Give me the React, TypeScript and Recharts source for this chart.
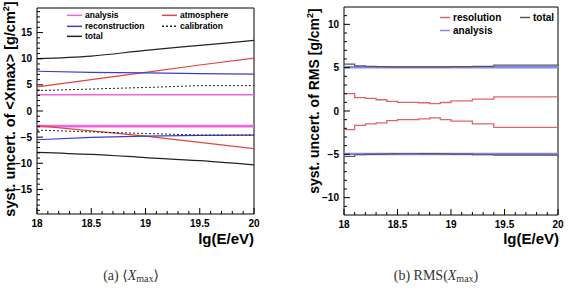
import React from 'react';
import { LineChart, Line, XAxis, YAxis, ReferenceArea, Legend } from 'recharts';

// ---------- data: left panel <Xmax> ----------
const lgE = [18, 18.5, 19, 19.5, 20];
const analysisUp = [3.1, 3.1, 3.1, 3.1, 3.1];
const analysisLo = [-2.9, -2.9, -2.9, -2.9, -2.9];
const atmosphereUp = [4.6, 6.0, 7.4, 8.8, 10.1];
const atmosphereLo = [-2.8, -3.8, -4.8, -6.0, -7.2];
const reconstructionUp = [7.6, 7.4, 7.3, 7.15, 7.05];
const reconstructionLo = [-5.5, -5.05, -4.8, -4.65, -4.6];
const calibrationUp = [3.9, 4.2, 4.5, 4.85, 4.85];
const calibrationLo = [-3.65, -4.0, -4.3, -4.6, -4.6];
const totalUp = [10.0, 10.5, 11.6, 12.55, 13.5];
const totalLo = [-7.9, -8.3, -8.9, -9.5, -10.3];

// ---------- data: right panel RMS (histogram bins) ----------
const binEdges = [18, 18.1, 18.2, 18.3, 18.4, 18.5, 18.7, 18.8, 18.9, 19.0, 19.2, 19.4, 20];
const resolutionUp = [2.0, 1.55, 1.45, 1.3, 1.1, 1.0, 0.95, 0.85, 0.98, 1.17, 1.36, 1.62];
const resolutionLo = [-2.15, -1.67, -1.48, -1.36, -1.1, -0.99, -0.91, -0.8, -0.99, -1.17, -1.48, -1.9];
const rmsAnalysisUp = [5.05, 5.05, 5.05, 5.05, 5.05, 5.05, 5.05, 5.05, 5.05, 5.05, 5.05, 5.05];
const rmsAnalysisLo = [-4.97, -4.97, -4.97, -4.97, -4.97, -4.97, -4.97, -4.97, -4.97, -4.97, -4.97, -4.97];
const rmsTotalUp = [5.4, 5.2, 5.15, 5.12, 5.1, 5.1, 5.08, 5.08, 5.1, 5.12, 5.15, 5.3];
const rmsTotalLo = [-5.25, -5.05, -5.0, -4.98, -4.95, -4.93, -4.92, -4.92, -4.95, -4.98, -5.05, -5.1];

// ---------- ticks ----------
const xMajorTicks = [18, 18.5, 19, 19.5, 20];
const xTicks = [18, 18.1, 18.2, 18.3, 18.4, 18.5, 18.6, 18.7, 18.8, 18.9, 19, 19.1, 19.2, 19.3, 19.4, 19.5, 19.6, 19.7, 19.8, 19.9, 20];
const yTicksLeft = Array.from({ length: 39 }, (_, i) => i - 19);
const yTicksRight = Array.from({ length: 23 }, (_, i) => i - 11);

const FONT = '"Liberation Sans", Arial, Helvetica, sans-serif';
const SERIF = '"Liberation Serif", "DejaVu Serif", serif';

type Pt = { x: number; y: number };
const toPts = (xs: number[], ys: number[]): Pt[] => xs.map((x, i) => ({ x, y: ys[i] }));
const toSteps = (edges: number[], vals: number[]): Pt[] => [
  ...vals.map((v, i) => ({ x: edges[i], y: v })),
  { x: edges[edges.length - 1], y: vals[vals.length - 1] },
];

const fmt = (v: number) => (v < 0 ? '\u2212' + String(Math.abs(v)) : String(v));

const XTick = (p: any) => {
  const v = p.payload.value as number;
  const major = xMajorTicks.some((m) => Math.abs(m - v) < 1e-6);
  return (
    <g>
      <line x1={p.x} x2={p.x} y1={p.y} y2={p.y - (major ? 6 : 3)} stroke="#000" strokeWidth={1} />
      {major && (
        <text x={p.x} y={p.y + 13} textAnchor="middle" fontSize={10} fontWeight="bold" fontFamily={FONT} fill="#000">
          {fmt(v)}
        </text>
      )}
    </g>
  );
};

const YTick = (p: any) => {
  const v = p.payload.value as number;
  const major = Math.abs(v % 5) < 1e-6;
  return (
    <g>
      <line x1={p.x} x2={p.x + (major ? 6 : 3)} y1={p.y} y2={p.y} stroke="#000" strokeWidth={1} />
      {major && (
        <text x={p.x - 5} y={p.y + 3.5} textAnchor="end" fontSize={10} fontWeight="bold" fontFamily={FONT} fill="#000">
          {fmt(v)}
        </text>
      )}
    </g>
  );
};

const styles: Record<string, { color: string; width: number; dash?: string }> = {
  analysis: { color: '#ee66dd', width: 1.5 },
  atmosphere: { color: '#e04444', width: 1.2 },
  reconstruction: { color: '#3c3ccc', width: 1.2 },
  calibration: { color: '#222', width: 1, dash: '2 2' },
  total: { color: '#222', width: 1.2 },
  resolution: { color: '#e06464', width: 1.3 },
  rmsAnalysis: { color: '#8585ee', width: 1.5 },
  rmsTotal: { color: '#555', width: 1.3 },
};

const makeLegend =
  (order: string[], cols: number, colW: number, rowH: number, lineW: number, fontSize: number) =>
  (props: any) => {
    const payload = (props.payload || []) as any[];
    const byName = new Map(payload.map((it: any) => [it.value, it]));
    return (
      <div style={{ position: 'relative', width: cols * colW, height: Math.ceil(order.length / cols) * rowH }}>
        {order.map((name, i) => {
          const it: any = byName.get(name);
          if (!it) return null;
          const col = i % cols;
          const row = Math.floor(i / cols);
          const dash = it.payload?.strokeDasharray;
          return (
            <div
              key={name}
              style={{
                position: 'absolute',
                left: col * colW,
                top: row * rowH,
                height: rowH,
                display: 'flex',
                alignItems: 'center',
                whiteSpace: 'nowrap',
              }}
            >
              <svg width={lineW} height={rowH} style={{ display: 'block' }}>
                <line x1={0} x2={lineW} y1={rowH / 2} y2={rowH / 2} stroke={it.color} strokeWidth={1.5} strokeDasharray={dash} />
              </svg>
              <span style={{ marginLeft: 3, fontSize, fontWeight: 'bold', fontFamily: FONT, color: '#000', lineHeight: rowH + 'px' }}>
                {name}
              </span>
            </div>
          );
        })}
      </div>
    );
  };

const leftLegend = makeLegend(['analysis', 'atmosphere', 'reconstruction', 'calibration', 'total'], 2, 95, 10.7, 15, 8.5);
const rightLegend = makeLegend(['resolution', 'total', 'analysis'], 2, 80, 13, 10, 10);

const LeftChart = () => (
  <LineChart width={284} height={290} margin={{ top: 8, right: 30, bottom: 46, left: 0 }}>
    <XAxis
      type="number"
      dataKey="x"
      domain={[18, 20]}
      ticks={xTicks}
      interval={0}
      tick={XTick}
      tickSize={0}
      tickMargin={0}
      axisLine={false}
      tickLine={false}
      height={30}
      allowDataOverflow
    />
    <YAxis
      type="number"
      dataKey="y"
      domain={[-19.7, 19.7]}
      ticks={yTicksLeft}
      interval={0}
      tick={YTick}
      tickSize={0}
      tickMargin={0}
      axisLine={false}
      tickLine={false}
      width={37}
      allowDataOverflow
    />
    <ReferenceArea x1={18} x2={20} y1={-19.7} y2={19.7} fill="none" stroke="#000" strokeWidth={1} strokeOpacity={1} fillOpacity={0} />
    <Legend
      layout="horizontal"
      verticalAlign="middle"
      align="center"
      content={leftLegend}
      wrapperStyle={{ left: 67, top: 10, width: 190, height: 33 }}
    />
    <Line data={toPts(lgE, analysisUp)} dataKey="y" name="analysis" stroke={styles.analysis.color} strokeWidth={1.5} dot={false} isAnimationActive={false} />
    <Line data={toPts(lgE, analysisLo)} dataKey="y" name="analysisLo" legendType="none" stroke={styles.analysis.color} strokeWidth={2.8} dot={false} isAnimationActive={false} />
    <Line data={toPts(lgE, atmosphereUp)} dataKey="y" name="atmosphere" stroke={styles.atmosphere.color} strokeWidth={1.2} dot={false} isAnimationActive={false} />
    <Line data={toPts(lgE, atmosphereLo)} dataKey="y" name="atmosphereLo" legendType="none" stroke={styles.atmosphere.color} strokeWidth={1.2} dot={false} isAnimationActive={false} />
    <Line data={toPts(lgE, reconstructionUp)} dataKey="y" name="reconstruction" stroke={styles.reconstruction.color} strokeWidth={1.2} dot={false} isAnimationActive={false} />
    <Line data={toPts(lgE, reconstructionLo)} dataKey="y" name="reconstructionLo" legendType="none" stroke={styles.reconstruction.color} strokeWidth={1.2} dot={false} isAnimationActive={false} />
    <Line data={toPts(lgE, calibrationUp)} dataKey="y" name="calibration" stroke={styles.calibration.color} strokeWidth={1} strokeDasharray="2 2" dot={false} isAnimationActive={false} />
    <Line data={toPts(lgE, calibrationLo)} dataKey="y" name="calibrationLo" legendType="none" stroke={styles.calibration.color} strokeWidth={1} strokeDasharray="2 2" dot={false} isAnimationActive={false} />
    <Line data={toPts(lgE, totalUp)} dataKey="y" name="total" type="monotone" stroke={styles.total.color} strokeWidth={1.2} dot={false} isAnimationActive={false} />
    <Line data={toPts(lgE, totalLo)} dataKey="y" name="totalLo" type="monotone" legendType="none" stroke={styles.total.color} strokeWidth={1.2} dot={false} isAnimationActive={false} />
    <text transform="rotate(-90)" x={-109} y={14.5} textAnchor="middle" fontSize={14.5} fontWeight="bold" fontFamily={FONT} fill="#000">
      syst. uncert. of &lt;Xmax&gt; [g/cm<tspan dy={-6} fontSize={9}>2</tspan>
      <tspan dy={6}>]</tspan>
    </text>
    <text x={254} y={244} textAnchor="end" fontSize={15} fontWeight="bold" fontFamily={FONT} fill="#000">
      lg(E/eV)
    </text>
    <text x={131} y={280} textAnchor="middle" fontSize={14} fontFamily={SERIF} fill="#333">
      (a) ⟨<tspan fontStyle="italic">X</tspan>
      <tspan fontSize={10} dy={2}>max</tspan>
      <tspan dy={-2}>⟩</tspan>
    </text>
  </LineChart>
);

const RightChart = () => (
  <LineChart width={284} height={290} margin={{ top: 7, right: 10, bottom: 45, left: 0 }}>
    <XAxis
      type="number"
      dataKey="x"
      domain={[18, 20]}
      ticks={xTicks}
      interval={0}
      tick={XTick}
      tickSize={0}
      tickMargin={0}
      axisLine={false}
      tickLine={false}
      height={30}
      allowDataOverflow
    />
    <YAxis
      type="number"
      dataKey="y"
      domain={[-12, 12]}
      ticks={yTicksRight}
      interval={0}
      tick={YTick}
      tickSize={0}
      tickMargin={0}
      axisLine={false}
      tickLine={false}
      width={60}
      allowDataOverflow
    />
    <ReferenceArea x1={18} x2={20} y1={-12} y2={12} fill="none" stroke="#000" strokeWidth={1} strokeOpacity={1} fillOpacity={0} />
    <Legend
      layout="horizontal"
      verticalAlign="middle"
      align="center"
      content={rightLegend}
      wrapperStyle={{ left: 156, top: 11, width: 120, height: 26 }}
    />
    <Line data={toSteps(binEdges, resolutionUp)} dataKey="y" name="resolution" type="stepAfter" stroke={styles.resolution.color} strokeWidth={1.3} dot={false} isAnimationActive={false} />
    <Line data={toSteps(binEdges, resolutionLo)} dataKey="y" name="resolutionLo" legendType="none" type="stepAfter" stroke={styles.resolution.color} strokeWidth={1.3} dot={false} isAnimationActive={false} />
    <Line data={toSteps(binEdges, rmsAnalysisUp)} dataKey="y" name="analysis" type="stepAfter" stroke={styles.rmsAnalysis.color} strokeWidth={2.6} dot={false} isAnimationActive={false} />
    <Line data={toSteps(binEdges, rmsAnalysisLo)} dataKey="y" name="analysisLo" legendType="none" type="stepAfter" stroke={styles.rmsAnalysis.color} strokeWidth={2.6} dot={false} isAnimationActive={false} />
    <Line data={toSteps(binEdges, rmsTotalUp)} dataKey="y" name="total" type="stepAfter" stroke={styles.rmsTotal.color} strokeWidth={1.2} dot={false} isAnimationActive={false} />
    <Line data={toSteps(binEdges, rmsTotalLo)} dataKey="y" name="totalLo" legendType="none" type="stepAfter" stroke={styles.rmsTotal.color} strokeWidth={1.2} dot={false} isAnimationActive={false} />
    <text transform="rotate(-90)" x={-101} y={35} textAnchor="middle" fontSize={14} fontWeight="bold" fontFamily={FONT} fill="#000">
      syst. uncert. of RMS [g/cm<tspan dy={-6} fontSize={9}>2</tspan>
      <tspan dy={6}>]</tspan>
    </text>
    <text x={275} y={244} textAnchor="end" fontSize={15} fontWeight="bold" fontFamily={FONT} fill="#000">
      lg(E/eV)
    </text>
    <text x={152} y={280} textAnchor="middle" fontSize={14} fontFamily={SERIF} fill="#333">
      (b) RMS(<tspan fontStyle="italic">X</tspan>
      <tspan fontSize={10} dy={2}>max</tspan>
      <tspan dy={-2}>)</tspan>
    </text>
  </LineChart>
);

export default function App() {
  return (
    <div style={{ position: 'absolute', left: 0, top: 0, width: 568, height: 290, background: '#fff' }}>
      <div style={{ position: 'absolute', left: 0, top: 0, width: 284, height: 290 }}>
        <LeftChart />
      </div>
      <div style={{ position: 'absolute', left: 284, top: 0, width: 284, height: 290 }}>
        <RightChart />
      </div>
    </div>
  );
}
